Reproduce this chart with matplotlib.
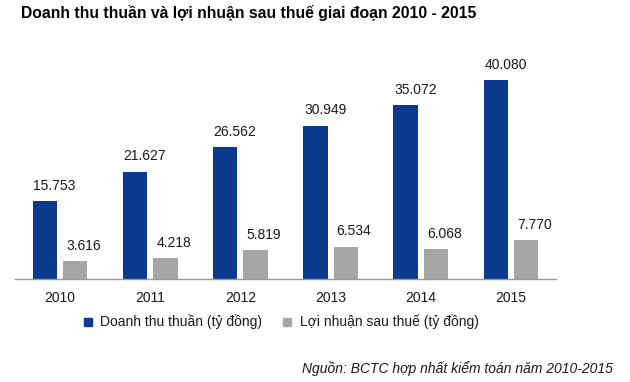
import numpy as np
import matplotlib
matplotlib.use("Agg")
import matplotlib.pyplot as plt
from matplotlib.lines import Line2D
from matplotlib.transforms import ScaledTranslation

plt.rcParams['font.family'] = ['Liberation Sans', 'DejaVu Sans']

years = ['2010', '2011', '2012', '2013', '2014', '2015']
revenue = [15753, 21627, 26562, 30949, 35072, 40080]
profit = [3616, 4218, 5819, 6534, 6068, 7770]
rev_labels = ['15.753', '21.627', '26.562', '30.949', '35.072', '40.080']
profit_labels = ['3.616', '4.218', '5.819', '6.534', '6.068', '7.770']

title = 'Doanh thu thuần và lợi nhuận sau thuế giai đoạn 2010 - 2015'
series_names = ['Doanh thu thuần (tỷ đồng)', 'Lợi nhuận sau thuế (tỷ đồng)']
source = 'Nguồn: BCTC hợp nhất kiểm toán năm 2010-2015'

blue = '#0b3a8e'
grey = '#a6a6a6'
txt = '#1a1a1a'

W, H = 630, 382
fig = plt.figure(figsize=(W / 100, H / 100), dpi=100)
# axes placed in pixel terms: x 15..556, baseline y=279
ax = fig.add_axes([15 / W, (H - 279) / H, 541 / W, 228 / H])

x = np.arange(len(years))
bw = 0.27
off = 0.168
ax.bar(x - off, revenue, bw, color=blue)
ax.bar(x + off, profit, bw, color=grey)

for xi, v, lab in zip(x, revenue, rev_labels):
    ax.annotate(lab, (xi - off, v), xytext=(7, 6), textcoords='offset points',
                ha='center', va='bottom', fontsize=10, color=txt)
for xi, v, lab in zip(x, profit, profit_labels):
    ax.annotate(lab, (xi + off, v), xytext=(6, 6), textcoords='offset points',
                ha='center', va='bottom', fontsize=10, color=txt)

ax.set_xlim(-0.5, len(years) - 0.5)
ax.set_ylim(0, 46000)
ax.set_xticks(x)
ax.set_xticklabels(years, fontsize=10, color=txt)
shift = ScaledTranslation(6 / 100, 0, fig.dpi_scale_trans)
for t in ax.get_xticklabels():
    t.set_transform(t.get_transform() + shift)
ax.tick_params(axis='x', length=0, pad=9)
ax.set_yticks([])
for s in ['top', 'right', 'left']:
    ax.spines[s].set_visible(False)
ax.spines['bottom'].set_color('#999999')
ax.spines['bottom'].set_linewidth(1.0)

handles = [Line2D([], [], ls='none', marker='s', ms=6, color=blue),
           Line2D([], [], ls='none', marker='s', ms=6, color=grey)]
fig.legend(handles, series_names, loc='center left',
           bbox_to_anchor=(75 / W, 1 - 322 / H), ncol=2, frameon=False,
           fontsize=10, handletextpad=0.5, columnspacing=1.4,
           handlelength=0.8, labelcolor=txt, borderpad=0)

fig.text(21 / W, 1 - 13 / H, title, fontsize=11.3, fontweight='bold',
         color='black', va='center', ha='left')
fig.text(613 / W, 1 - 369 / H, source, fontsize=10, style='italic',
         color=txt, va='center', ha='right')

fig.savefig('out.png', dpi=100)
